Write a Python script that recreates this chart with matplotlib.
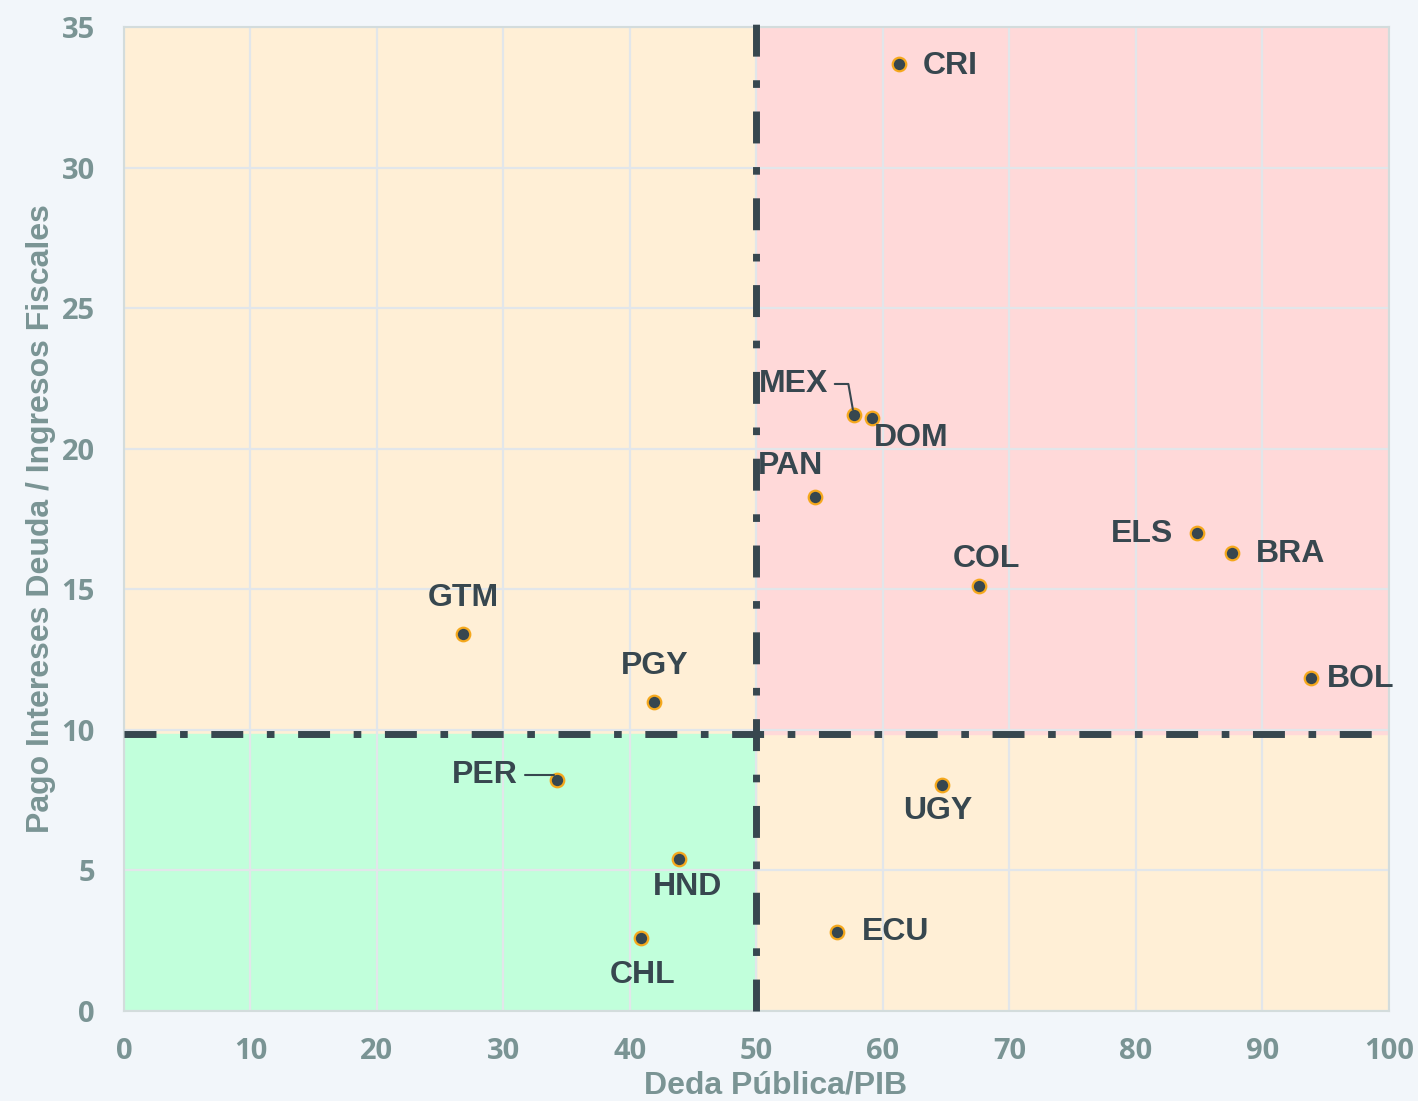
import numpy as np
import matplotlib.pyplot as plt
from matplotlib.patches import Rectangle

# datos
paises = ["CRI", "MEX", "DOM", "PAN", "ELS", "BRA", "COL", "BOL",
          "GTM", "PGY", "PER", "UGY", "HND", "CHL", "ECU"]
deuda_pib = [61.3, 57.7, 59.1, 54.6, 84.8, 87.6, 67.6, 93.8,
             26.8, 41.9, 34.2, 64.7, 43.9, 40.9, 56.4]
intereses = [33.7, 21.2, 21.1, 18.3, 17.0, 16.3, 15.1, 11.85,
             13.4, 11.0, 8.2, 8.05, 5.4, 2.6, 2.8]

umbral_x = 50
umbral_y = 9.85

# desplazamiento de etiquetas en pixeles (dx, dy hacia abajo), alineacion, con guia
etiquetas = {
    "CRI": (23, 2, "left", False),
    "MEX": (-26, -31, "right", True),
    "DOM": (40, 20, "center", False),
    "PAN": (-57, -31, "left", False),
    "ELS": (-24, 1, "right", False),
    "BRA": (24, 1, "left", False),
    "COL": (7, -27, "center", False),
    "BOL": (16, 1, "left", False),
    "GTM": (0, -36, "center", False),
    "PGY": (1, -36, "center", False),
    "PER": (-39, -5, "right", True),
    "UGY": (-5, 26, "center", False),
    "HND": (8, 28, "center", False),
    "CHL": (1, 37, "center", False),
    "ECU": (24, 0, "left", False),
}

oscuro = "#37474F"
gris = "#7A9494"
naranja = "#FFEFD6"
rojo = "#FFD9D9"
verde = "#C1FFDB"

fig = plt.figure(figsize=(14.18, 11.01), dpi=100, facecolor="#F2F6FA")
ax = fig.add_axes([0.0874, 0.0817, 0.8921, 0.8938])
ax.set_facecolor(naranja)
ax.set_xlim(0, 100)
ax.set_ylim(0, 35)

ax.add_patch(Rectangle((0, 0), umbral_x, umbral_y, color=verde, zorder=0))
ax.add_patch(Rectangle((umbral_x, umbral_y), 100 - umbral_x, 35 - umbral_y,
                       color=rojo, zorder=0))

ax.set_axisbelow(True)
ax.grid(True, color="#E2E6EA", lw=1.6)
ax.set_xticks(np.arange(0, 101, 10))
ax.set_yticks(np.arange(0, 36, 5))
for s in ax.spines.values():
    s.set_color("#D3DCDC")
    s.set_linewidth(1.5)
ax.tick_params(axis="x", length=0, pad=19, labelcolor=gris)
ax.tick_params(axis="y", length=0, pad=21, labelcolor=gris)
for t in ax.get_xticklabels() + ax.get_yticklabels():
    t.set_fontfamily("Open Sans")
    t.set_fontweight("bold")
    t.set_fontsize(21)

patron = (4.6, 3.4, 1.1, 3.4)
ax.plot([umbral_x, umbral_x], [0, 35.5], color=oscuro, lw=5, dashes=patron,
        clip_on=False, zorder=3, solid_capstyle="butt", dash_capstyle="butt")
ax.plot([0, 100], [umbral_y, umbral_y], color=oscuro, lw=5, dashes=patron,
        zorder=3, dash_capstyle="butt")

ax.scatter(deuda_pib, intereses, s=95, color=oscuro, edgecolor="#F5A81C",
           linewidth=1.6, zorder=5)

for p, x, y in zip(paises, deuda_pib, intereses):
    dx, dy, ha, guia = etiquetas[p]
    ax.annotate(p, (x, y), xytext=(dx * 0.72, -dy * 0.72), textcoords="offset points",
                ha=ha, va="center", fontsize=23, fontweight="bold", color=oscuro,
                family="Liberation Sans", zorder=6,
                arrowprops=dict(arrowstyle="-", color=oscuro, lw=1.5, shrinkA=3, shrinkB=4,
                                connectionstyle="angle,angleA=0,angleB=100,rad=0")
                if guia else None)

ax.set_xlabel("Deda Pública/PIB", fontsize=23, fontweight="bold", color=gris,
              family="Liberation Sans", labelpad=3)
ax.xaxis.label.set_x(0.515)
ax.set_ylabel("Pago Intereses Deuda / Ingresos Fiscales", fontsize=23,
              fontweight="bold", color=gris, family="Liberation Sans", labelpad=4)

fig.savefig("out.png", dpi=100, facecolor=fig.get_facecolor())
